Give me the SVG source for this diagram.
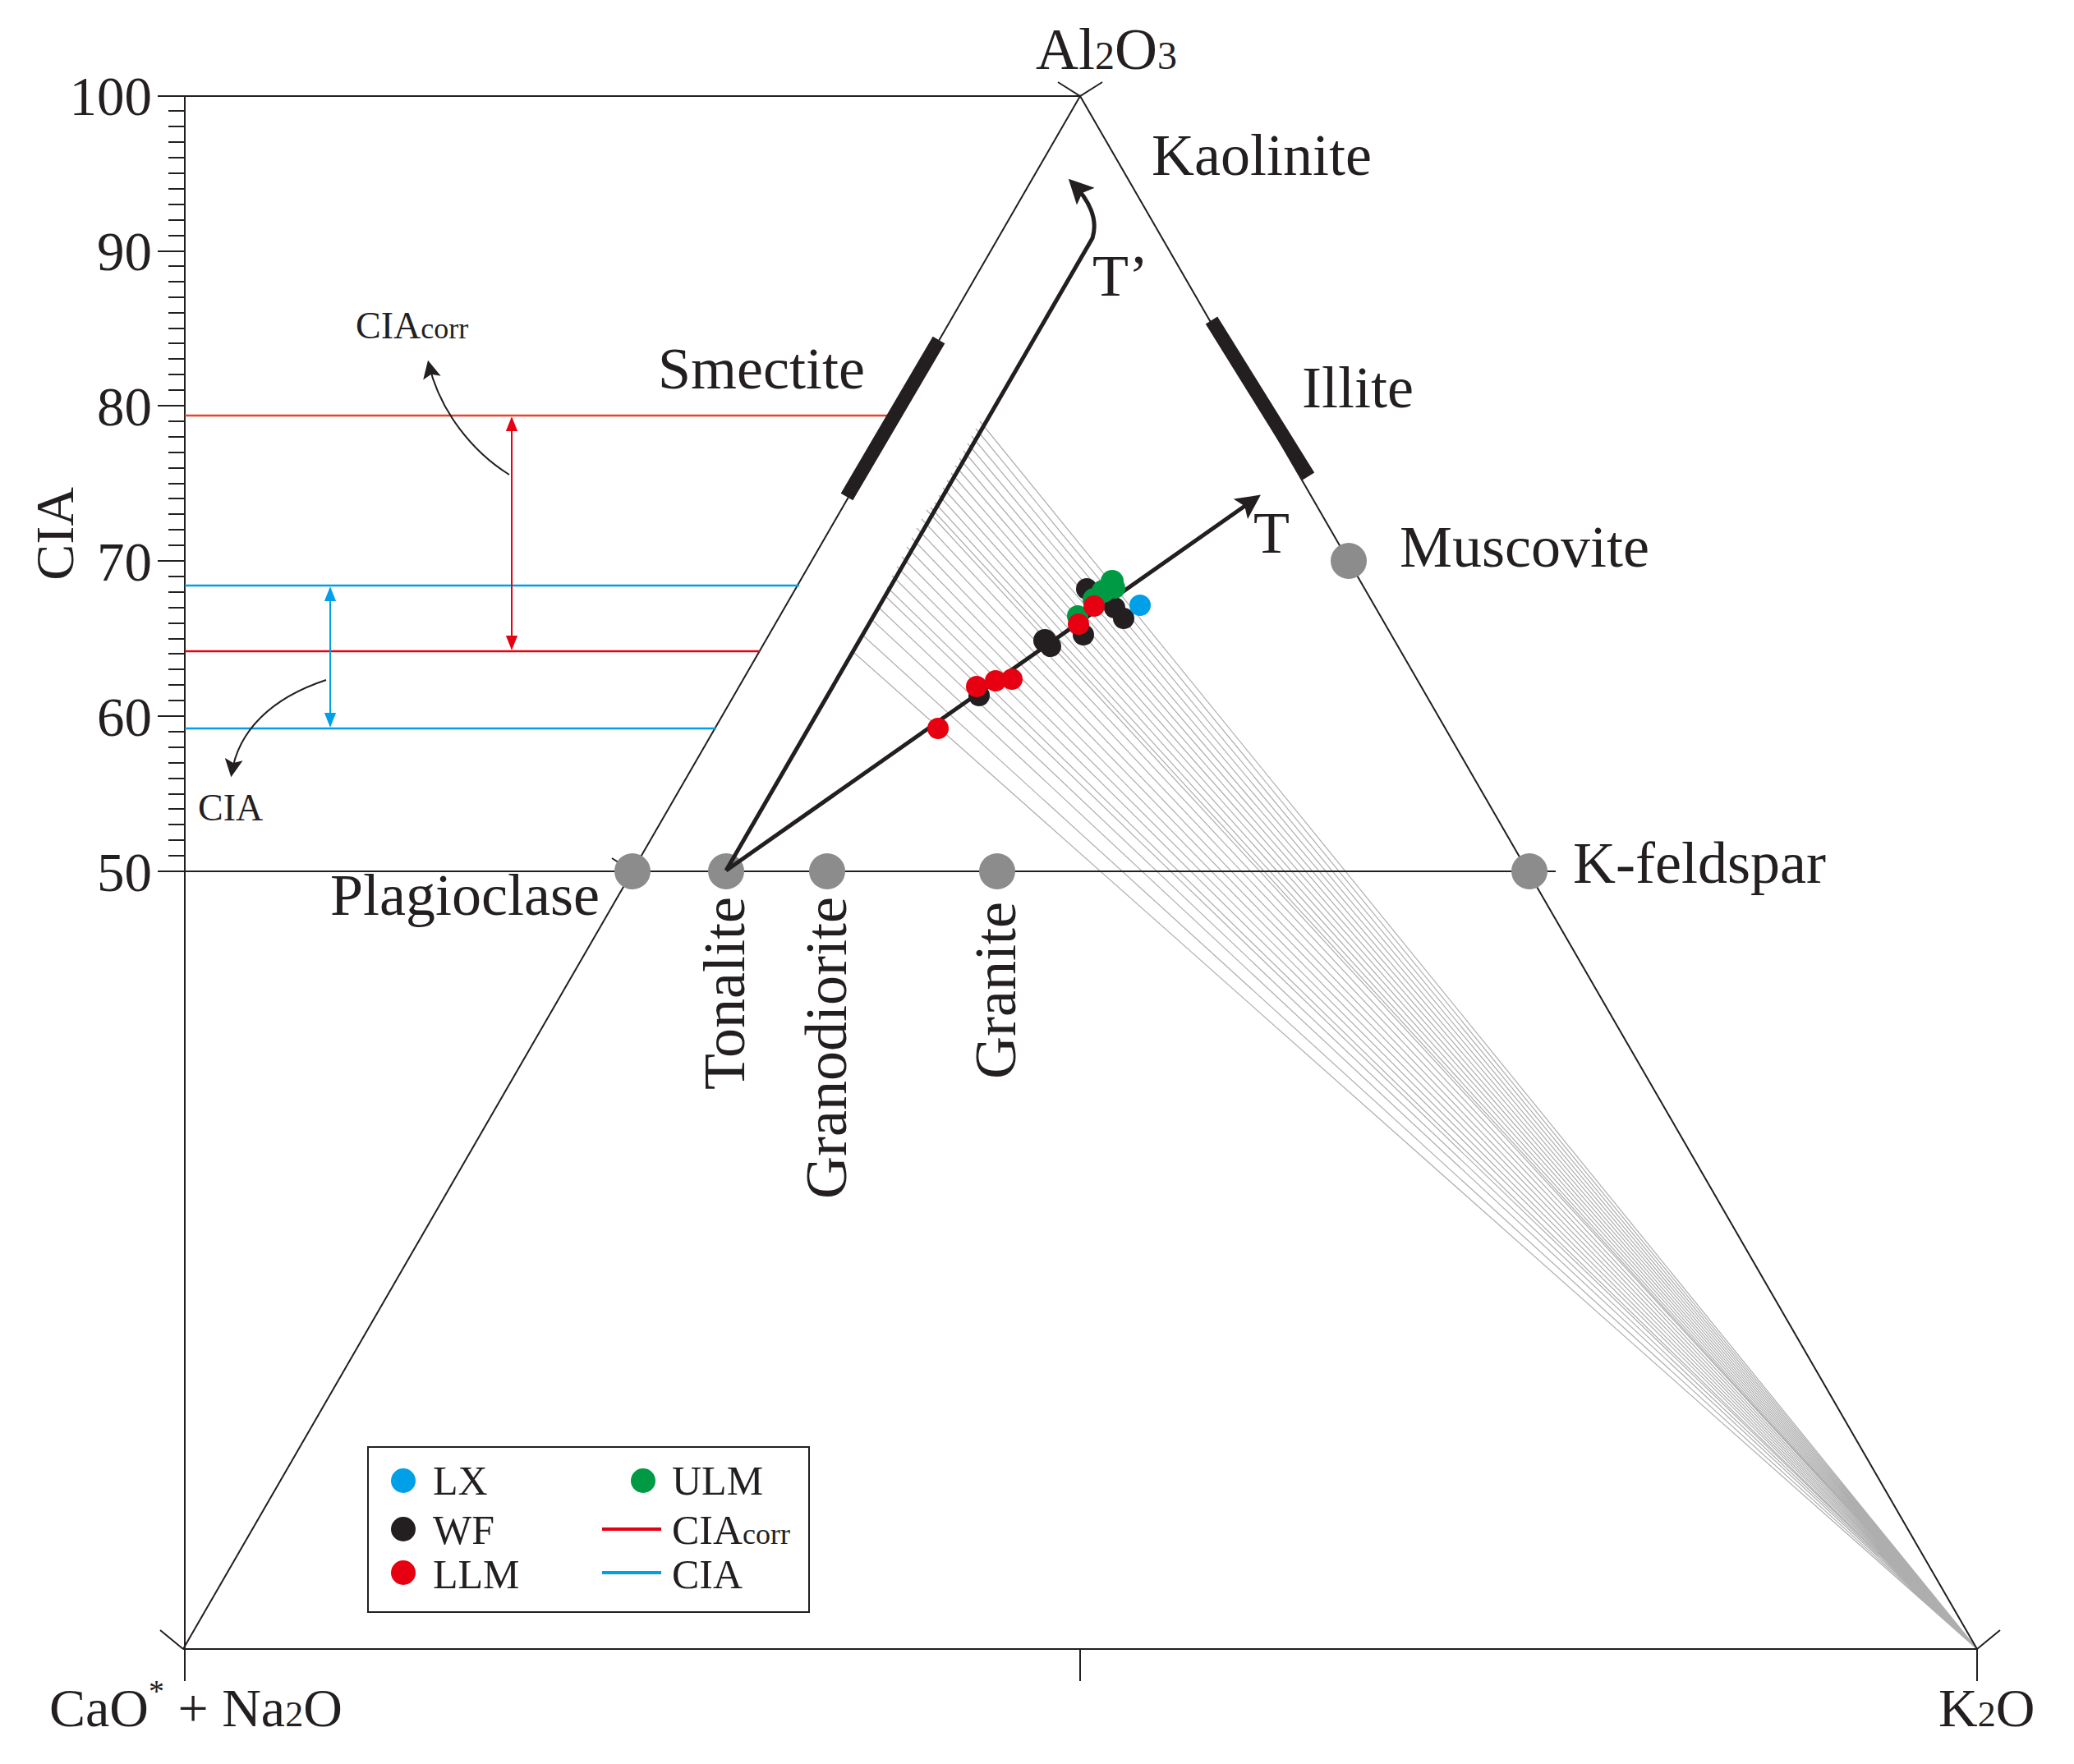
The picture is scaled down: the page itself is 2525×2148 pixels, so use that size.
<svg xmlns="http://www.w3.org/2000/svg" width="2525" height="2148" viewBox="0 0 2525 2148">
<style>
text{font-family:"Liberation Serif","Times New Roman",serif;fill:#231f20}
.lab{font-size:72px}
.tk{font-size:67px;text-anchor:end}
.ax{stroke:#231f20;stroke-width:2;fill:none}
.g{stroke:#9a9a9a;stroke-width:1.2;fill:none;opacity:.8}
.gc{fill:#8c8c8c}
</style>
<defs>
<marker id="abig" viewBox="0 0 10 10" refX="8" refY="5" markerWidth="30" markerHeight="30" orient="auto" markerUnits="userSpaceOnUse"><path d="M0,0L10,5L0,10L2,5z" fill="#231f20"/></marker>
<marker id="ar" viewBox="0 0 10 10" refX="9" refY="5" markerWidth="18" markerHeight="18" orient="auto-start-reverse" markerUnits="userSpaceOnUse"><path d="M0,1L10,5L0,9z" fill="#e60012"/></marker>
<marker id="abl" viewBox="0 0 10 10" refX="9" refY="5" markerWidth="18" markerHeight="18" orient="auto-start-reverse" markerUnits="userSpaceOnUse"><path d="M0,1L10,5L0,9z" fill="#00a0e9"/></marker>
<marker id="ac" viewBox="0 0 10 10" refX="8" refY="5" markerWidth="22" markerHeight="22" orient="auto" markerUnits="userSpaceOnUse"><path d="M0,0L10,5L0,10L2,5z" fill="#231f20"/></marker>
</defs>

<g id="grey-lines">
<path class="g" d="M1193,513L2407,2008M1188,522L2407,2008M1183,531L2407,2008M1178,540L2407,2008M1173,549L2407,2008M1168,558L2407,2008M1163,567L2407,2008M1158,576L2407,2008M1153,585L2407,2008M1148,594L2407,2008M1143,603L2407,2008M1138,612L2407,2008M1133,618L2407,2008M1128,621L2407,2008M1122,632L2407,2008M1116,643L2407,2008M1110,655L2407,2008M1104,666L2407,2008M1098,678L2407,2008M1092,690L2407,2008M1086,701L2407,2008M1080,715L2407,2008M1077,725L2407,2008M1070,740L2407,2008M1062,755L2407,2008M1052,775L2407,2008M1040,795L2407,2008"/>
</g>

<g id="frame">
<path class="ax" d="M225,117L1315,117M225,1061L1894,1061M225,117L225,2047M223,2008L2407,2008M1315,2008L1315,2047M2407,2008L2407,2047"/>
<path class="ax" d="M223,2008L1315,117L2407,2008"/>
<path class="ax" d="M1288,100L1315,117L1342,100M195,1985L223,2008M2407,2008L2435,1985M745,1045L770,1061"/>
<path class="ax" d="M225,1061h-33M225,1042h-20M225,1023h-20M225,1004h-20M225,985h-20M225,967h-20M225,948h-20M225,929h-20M225,910h-20M225,891h-20M225,872h-33M225,853h-20M225,834h-20M225,815h-20M225,796h-20M225,778h-20M225,759h-20M225,740h-20M225,721h-20M225,702h-20M225,683h-33M225,664h-20M225,645h-20M225,626h-20M225,607h-20M225,589h-20M225,570h-20M225,551h-20M225,532h-20M225,513h-20M225,494h-33M225,475h-20M225,456h-20M225,437h-20M225,418h-20M225,400h-20M225,381h-20M225,362h-20M225,343h-20M225,324h-20M225,306h-33M225,287h-20M225,268h-20M225,249h-20M225,230h-20M225,211h-20M225,192h-20M225,173h-20M225,154h-20M225,135h-20M225,117h-33"/>
<text class="tk" x="185" y="140">100</text>
<text class="tk" x="185" y="329">90</text>
<text class="tk" x="185" y="518">80</text>
<text class="tk" x="185" y="707">70</text>
<text class="tk" x="185" y="896">60</text>
<text class="tk" x="185" y="1085">50</text>
<text transform="translate(89,650) rotate(-90)" text-anchor="middle" font-size="66">CIA</text>
</g>

<g id="cia-lines">
<line x1="225" y1="506" x2="1095" y2="506" stroke="#e8442a" stroke-width="2.5"/>
<line x1="225" y1="793" x2="925" y2="793" stroke="#e60012" stroke-width="2.5"/>
<line x1="225" y1="713" x2="973" y2="713" stroke="#00a0e9" stroke-width="2.5"/>
<line x1="225" y1="887" x2="872" y2="887" stroke="#00a0e9" stroke-width="2.5"/>
<line x1="623" y1="509" x2="623" y2="790" stroke="#e60012" stroke-width="2" marker-start="url(#ar)" marker-end="url(#ar)"/>
<line x1="402" y1="716" x2="402" y2="884" stroke="#00a0e9" stroke-width="2" marker-start="url(#abl)" marker-end="url(#abl)"/>
<path d="M620,578C575,550 535,500 522,443" stroke="#231f20" stroke-width="2" fill="none" marker-end="url(#ac)"/>
<path d="M397,828C330,850 290,890 282,942" stroke="#231f20" stroke-width="2" fill="none" marker-end="url(#ac)"/>
<text x="433" y="412" font-size="46">CIA<tspan font-size="36">corr</tspan></text>
<text x="241" y="999" font-size="46">CIA</text>
</g>

<g id="minerals">
<line x1="1143" y1="414" x2="1031" y2="605" stroke="#231f20" stroke-width="17"/>
<line x1="1475" y1="390" x2="1593" y2="580" stroke="#231f20" stroke-width="17"/>
<text class="lab" x="801" y="473">Smectite</text>
<text class="lab" x="1402" y="213">Kaolinite</text>
<text class="lab" x="1585" y="496">Illite</text>
<text class="lab" x="1704" y="690">Muscovite</text>
<text class="lab" x="1915" y="1075">K-feldspar</text>
<text class="lab" x="402" y="1114">Plagioclase</text>
<text class="lab" x="1261" y="84">Al<tspan font-size="48">2</tspan>O<tspan font-size="48">3</tspan></text>
<circle class="gc" cx="770" cy="1061" r="22"/>
<circle class="gc" cx="884" cy="1061" r="22"/>
<circle class="gc" cx="1007" cy="1061" r="22"/>
<circle class="gc" cx="1214" cy="1061" r="22"/>
<circle class="gc" cx="1862" cy="1061" r="22"/>
<circle class="gc" cx="1642" cy="683" r="22"/>
<text class="lab" transform="translate(906,1092) rotate(-90)" text-anchor="end">Tonalite</text>
<text class="lab" transform="translate(1030,1092) rotate(-90)" text-anchor="end">Granodiorite</text>
<text class="lab" transform="translate(1236,1098) rotate(-90)" text-anchor="end">Granite</text>
</g>

<g id="trends">
<path d="M884,1060L1330,290Q1340,258 1305,222" stroke="#231f20" stroke-width="5" fill="none" marker-end="url(#abig)"/>
<path d="M884,1060L1530,606" stroke="#231f20" stroke-width="5" fill="none" marker-end="url(#abig)"/>
<text class="lab" x="1330" y="360">T’</text>
<text class="lab" x="1526" y="673">T</text>
</g>

<g id="points">
<circle cx="1192" cy="847" r="13" fill="#231f20"/>
<circle cx="1272" cy="780" r="14" fill="#231f20"/>
<circle cx="1279" cy="787" r="13" fill="#231f20"/>
<circle cx="1319" cy="773" r="13" fill="#231f20"/>
<circle cx="1323" cy="717" r="13" fill="#231f20"/>
<circle cx="1357" cy="740" r="13" fill="#231f20"/>
<circle cx="1368" cy="753" r="13" fill="#231f20"/>
<circle cx="1312" cy="750" r="13" fill="#009944"/>
<circle cx="1332" cy="730" r="14" fill="#009944"/>
<circle cx="1343" cy="720" r="14" fill="#009944"/>
<circle cx="1354" cy="708" r="14" fill="#009944"/>
<circle cx="1357" cy="716" r="13" fill="#009944"/>
<circle cx="1388" cy="737" r="13" fill="#00a0e9"/>
<circle cx="1142" cy="887" r="13" fill="#e60012"/>
<circle cx="1189" cy="836" r="13" fill="#e60012"/>
<circle cx="1212" cy="829" r="13" fill="#e60012"/>
<circle cx="1232" cy="827" r="13" fill="#e60012"/>
<circle cx="1313" cy="760" r="13" fill="#e60012"/>
<circle cx="1332" cy="738" r="13" fill="#e60012"/>
</g>

<g id="legend">
<rect x="448" y="1762" width="537" height="201" fill="#fff" stroke="#231f20" stroke-width="2"/>
<circle cx="491" cy="1803" r="15" fill="#00a0e9"/>
<circle cx="491" cy="1862" r="15" fill="#231f20"/>
<circle cx="491" cy="1915" r="15" fill="#e60012"/>
<circle cx="783" cy="1803" r="15" fill="#009944"/>
<line x1="733" y1="1862" x2="805" y2="1862" stroke="#e60012" stroke-width="4"/>
<line x1="733" y1="1915" x2="805" y2="1915" stroke="#00a0e9" stroke-width="4"/>
<text x="527" y="1820" font-size="50">LX</text>
<text x="527" y="1880" font-size="50">WF</text>
<text x="527" y="1934" font-size="50">LLM</text>
<text x="818" y="1820" font-size="50">ULM</text>
<text x="818" y="1880" font-size="50">CIA<tspan font-size="36">corr</tspan></text>
<text x="818" y="1934" font-size="50">CIA</text>
</g>

<g id="axis-labels">
<text x="60" y="2102" font-size="66">CaO<tspan font-size="38" dy="-30">*</tspan><tspan dy="30"> + Na</tspan><tspan font-size="44">2</tspan>O</text>
<text x="2360" y="2102" font-size="66">K<tspan font-size="44">2</tspan>O</text>
</g>
</svg>
